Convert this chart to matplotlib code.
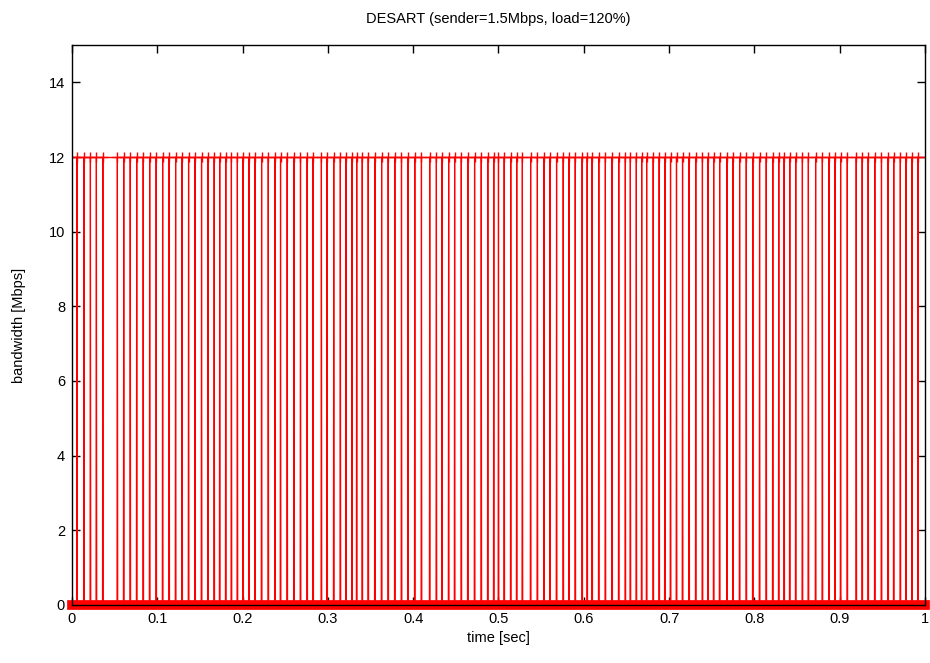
import matplotlib
matplotlib.use("Agg")
import matplotlib.pyplot as plt
import numpy as np

plt.rcParams['font.family'] = ['Liberation Sans', 'DejaVu Sans']

# spike times [sec], each spike reaches peak_bw
spike_times = [
    0.0058, 0.0140, 0.0216, 0.0286, 0.0362,
    0.0532, 0.0607, 0.0683, 0.0759, 0.0835, 0.0911, 0.0987, 0.1063, 0.1139,
    0.1215, 0.1291, 0.1367, 0.1443, 0.1519, 0.1595,
    0.1667, 0.1732, 0.1803, 0.1869, 0.1939, 0.2006, 0.2076, 0.2146, 0.2223,
    0.2301, 0.2380, 0.2445, 0.2523, 0.2602, 0.2679, 0.2757, 0.2827, 0.2924,
    0.2991, 0.3069, 0.3146, 0.3213, 0.3283,
    0.3338, 0.3403, 0.3473, 0.3551, 0.3630, 0.3707, 0.3785, 0.3863, 0.3940,
    0.4019, 0.4097, 0.4194, 0.4272, 0.4338, 0.4416, 0.4486, 0.4564, 0.4641,
    0.4720, 0.4798, 0.4875, 0.4945, 0.5000,
    0.5067, 0.5144, 0.5214, 0.5280, 0.5377, 0.5456, 0.5534, 0.5604, 0.5681,
    0.5759, 0.5826, 0.5900, 0.5981, 0.6040, 0.6098, 0.6176, 0.6253, 0.6332,
    0.6410, 0.6487, 0.6546, 0.6616,
    0.6679, 0.6737, 0.6814, 0.6884, 0.6951, 0.7017, 0.7087, 0.7158, 0.7235,
    0.7313, 0.7391, 0.7457, 0.7523, 0.7593, 0.7679, 0.7749, 0.7827, 0.7905,
    0.7982, 0.8061, 0.8139, 0.8216, 0.8286,
    0.8349, 0.8415, 0.8485, 0.8563, 0.8633, 0.8718, 0.8797, 0.8875, 0.8945,
    0.9011, 0.9089, 0.9194, 0.9264, 0.9334, 0.9412, 0.9490, 0.9568, 0.9634,
    0.9711, 0.9778, 0.9848, 0.9918,
]
peak_bw = 12.0
base_bw = 0.0

x_ticks = [0, 0.1, 0.2, 0.3, 0.4, 0.5, 0.6, 0.7, 0.8, 0.9, 1]
x_labels = ['0', '0.1', '0.2', '0.3', '0.4', '0.5', '0.6', '0.7', '0.8', '0.9', '1']
y_ticks = [0, 2, 4, 6, 8, 10, 12, 14]

fig = plt.figure(figsize=(9.3, 6.63), dpi=100)
ax = fig.add_axes([0.0774, 0.0875, 0.9172, 0.8446])

# spikes (0 -> peak -> 0)
xs = []
ys = []
half = 0.0004
for t in spike_times:
    xs += [t - half, t, t + half]
    ys += [base_bw, peak_bw, base_bw]
ax.plot(xs, ys, color='red', lw=0.9)

# baseline of points at 0
ax.plot([0, 1], [base_bw, base_bw], color='red', lw=7,
        solid_capstyle='projecting', clip_on=False, zorder=3)
# points at the top
ax.plot(spike_times, [peak_bw] * len(spike_times), ls='none', marker='+',
        color='red', ms=7, mew=1.0)
ax.plot([0, 1], [peak_bw, peak_bw], color='red', lw=1.0)

ax.set_xlim(0, 1)
ax.set_ylim(0, 15)
ax.set_xticks(x_ticks)
ax.set_xticklabels(x_labels)
ax.set_yticks(y_ticks)
ax.tick_params(direction='in', top=True, right=True, length=6, width=1,
               labelsize=10.5, pad=5)
for s in ax.spines.values():
    s.set_linewidth(1.0)
    s.set_zorder(5)

ax.set_xlabel("time [sec]", fontsize=10.5, labelpad=4)
ax.set_ylabel("bandwidth [Mbps]", fontsize=10.5, labelpad=16)
ax.set_title("DESART (sender=1.5Mbps, load=120%)", fontsize=10.5, pad=16)

fig.savefig("out.png", dpi=100)
